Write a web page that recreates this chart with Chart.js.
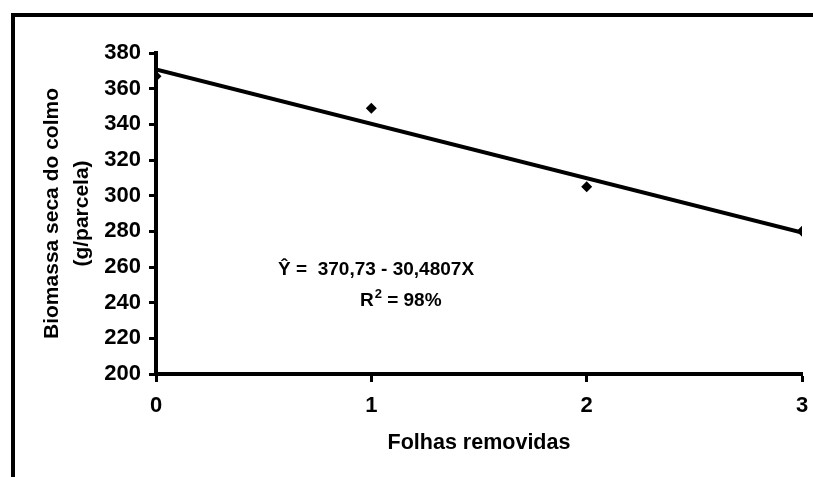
<!DOCTYPE html>
<html>
<head>
<meta charset="utf-8">
<script src="https://cdn.jsdelivr.net/npm/chart.js@4.4.1/dist/chart.umd.min.js"></script>
<style>
  html, body { margin: 0; padding: 0; background: #fff; overflow: hidden; }
  #wrap { position: relative; width: 813px; height: 477px; overflow: hidden; }
  #frame { position: absolute; left: 11px; top: 13px; width: 900px; height: 600px;
           border-top: 4px solid #000; border-left: 4px solid #000; }
  canvas { position: absolute; left: 0; top: 0; }
</style>
</head>
<body>
<div id="wrap">
  <div id="frame"></div>
  <canvas id="chart" width="813" height="477"></canvas>
</div>
<script>
// observed means
const folhas = [0, 1, 2, 3];
const biomassa = [367, 349, 305, 280];

// fitted line end points (from the printed equation)
const fitX = [0, 3];
const fitY = [370.73, 279.29];

const xTicks = [0, 1, 2, 3];
const yMin = 200, yMax = 380, yStep = 20;

const eqLine1 = 'Ŷ =  370,73 - 30,4807X';
const eqLine2 = ['R', '2', ' = 98%'];

const FONT = '"Liberation Sans", Arial, sans-serif';

const equationText = {
    id: 'equationText',
    afterDatasetsDraw(chart) {
        const { ctx, scales: { x, y } } = chart;
        ctx.save();
        ctx.fillStyle = '#000';
        ctx.textBaseline = 'alphabetic';
        ctx.textAlign = 'left';
        ctx.font = 'bold 19px ' + FONT;
        ctx.fillText(eqLine1, x.getPixelForValue(0.567), y.getPixelForValue(255.5));

        let px = x.getPixelForValue(0.947);
        const py = y.getPixelForValue(238.2);
        ctx.fillText(eqLine2[0], px, py);
        px += ctx.measureText(eqLine2[0]).width;
        ctx.font = 'bold 13px ' + FONT;
        ctx.fillText(eqLine2[1], px + 1, py - 8);
        px += ctx.measureText(eqLine2[1]).width + 1;
        ctx.font = 'bold 19px ' + FONT;
        ctx.fillText(eqLine2[2], px, py);
        ctx.restore();
    }
};

new Chart(document.getElementById('chart').getContext('2d'), {
    type: 'scatter',
    data: {
        datasets: [{
            data: folhas.map((v, i) => ({ x: v, y: biomassa[i] })),
            pointStyle: 'rectRot',
            pointRadius: 5.5,
            backgroundColor: '#000',
            borderColor: '#000',
            borderWidth: 0,
            showLine: false
        }, {
            data: fitX.map((v, i) => ({ x: v, y: fitY[i] })),
            showLine: true,
            borderColor: '#000',
            borderWidth: 4,
            pointRadius: 0
        }]
    },
    options: {
        responsive: false,
        animation: false,
        layout: { padding: { top: 53, right: 11, left: 0, bottom: 0 } },
        plugins: { legend: { display: false }, tooltip: { enabled: false } },
        scales: {
            x: {
                type: 'linear',
                min: 0, max: 3,
                afterBuildTicks: s => { s.ticks = xTicks.map(v => ({ value: v })); },
                afterFit: s => { s.height = 103; s.paddingLeft = 0; s.paddingRight = 0; },
                border: { color: '#000', width: 4 },
                grid: { drawOnChartArea: false, drawTicks: true, tickLength: 8, tickColor: '#000', tickWidth: 3 },
                ticks: { color: '#000', padding: 11, font: { family: FONT, size: 22, weight: 'bold' } },
                title: {
                    display: true, text: 'Folhas removidas', color: '#000',
                    font: { family: FONT, size: 21.5, weight: 'bold' },
                    padding: { top: 0, bottom: 21 }
                }
            },
            y: {
                min: yMin, max: yMax,
                ticks: { stepSize: yStep, color: '#000', padding: 8, font: { family: FONT, size: 22, weight: 'bold' } },
                afterFit: s => { s.width = 156; s.paddingTop = 0; s.paddingBottom = 0; },
                border: { color: '#000', width: 4 },
                grid: { drawOnChartArea: false, drawTicks: true, tickLength: 7, tickColor: '#000', tickWidth: 3 },
                title: {
                    display: true, text: ['Biomassa seca do colmo', '(g/parcela)'], color: '#000',
                    font: { family: FONT, size: 21, weight: 'bold', lineHeight: 1.45 },
                    padding: { top: 37, bottom: 0 }
                }
            }
        }
    },
    plugins: [equationText]
});
</script>
</body>
</html>
